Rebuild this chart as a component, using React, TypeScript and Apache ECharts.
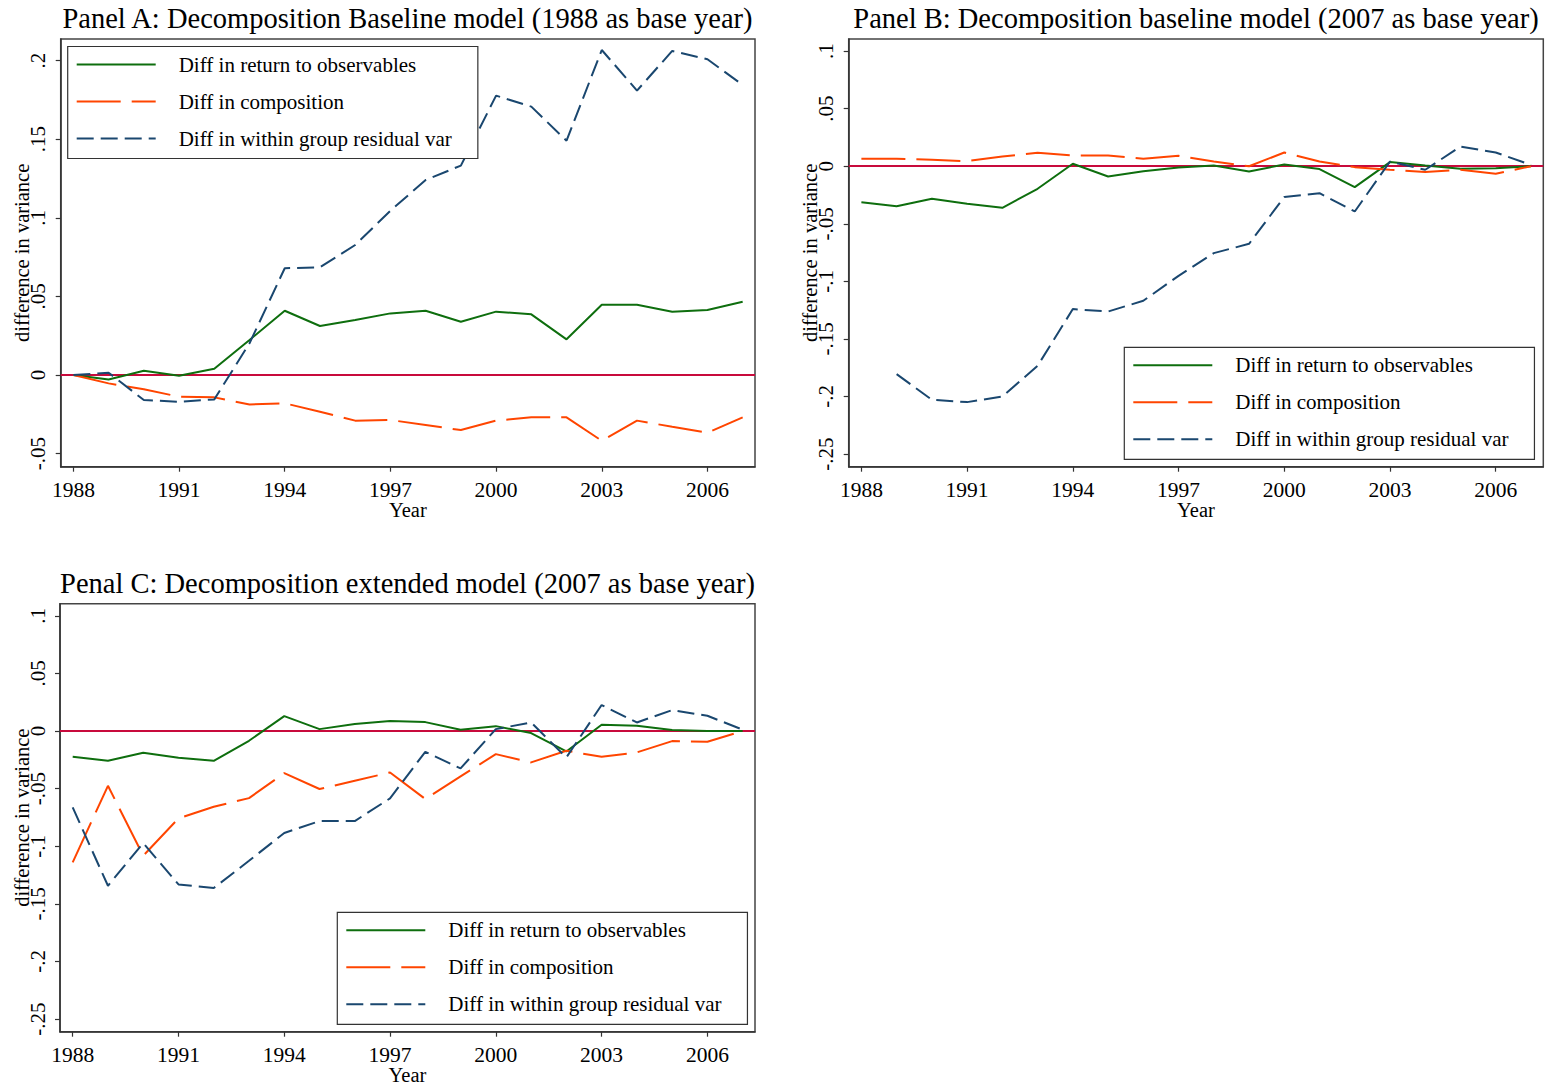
import React, { useEffect, useRef } from "react";
import * as echarts from "echarts";

// Survey years shared by all three panels
const years = [
  1988, 1989, 1990, 1991, 1992, 1993, 1994, 1995, 1996, 1997,
  1998, 1999, 2000, 2001, 2002, 2003, 2004, 2005, 2006, 2007,
];

// Panel A: baseline model, 1988 as base year
const aReturn = [
  0, -0.0028, 0.0027, -0.0004, 0.004, 0.0223, 0.0409, 0.0312, 0.035, 0.0392,
  0.0409, 0.0339, 0.0403, 0.0386, 0.0227, 0.0447, 0.0447, 0.0403, 0.0414, 0.0466,
];
const aComposition = [
  0, -0.0053, -0.0091, -0.0138, -0.0142, -0.0187, -0.018, -0.0233, -0.029, -0.0286,
  -0.0318, -0.035, -0.029, -0.0269, -0.0269, -0.0418, -0.029, -0.0329, -0.0367, -0.0269,
];
const aResidual = [
  0, 0.0015, -0.0159, -0.017, -0.0155, 0.0202, 0.0679, 0.0685, 0.0827, 0.1045,
  0.124, 0.1332, 0.1777, 0.1707, 0.149, 0.2067, 0.1809, 0.2061, 0.2008, 0.1845,
];

// Panel B: baseline model, 2007 as base year
const bReturn = [
  -0.0312, -0.0347, -0.0283, -0.0327, -0.0361, -0.0196, 0.0021, -0.0089, -0.0043, -0.0011,
  0.0006, -0.0046, 0.0015, -0.0025, -0.0182, 0.0036, 0.0006, -0.0023, -0.0017, 0,
];
const bComposition = [
  0.0064, 0.0064, 0.0056, 0.0044, 0.0084, 0.0116, 0.0093, 0.0093, 0.0064, 0.009,
  0.0041, 0, 0.0119, 0.0041, -0.0008, -0.0031, -0.0051, -0.0031, -0.0066, 0,
];
const bResidual: (number | null)[] = [
  null, -0.1806, -0.2029, -0.2049, -0.2, -0.1734, -0.1241, -0.1262, -0.1169, -0.0952,
  -0.0755, -0.0674, -0.0268, -0.0234, -0.0393, 0.0041, -0.0031, 0.0171, 0.0119, 0.0012,
];

// Panel C: extended model, 2007 as base year
const cReturn = [
  -0.0223, -0.0258, -0.0188, -0.0232, -0.0258, -0.0084, 0.013, 0.0017, 0.0061, 0.0087,
  0.0078, 0.0012, 0.0043, -0.0017, -0.0177, 0.0055, 0.0046, 0.0009, 0, 0,
];
const cComposition = [
  -0.114, -0.0475, -0.1082, -0.0758, -0.0657, -0.0582, -0.0365, -0.0503, -0.0431, -0.0359,
  -0.059, -0.0394, -0.02, -0.0272, -0.0171, -0.0223, -0.0185, -0.0087, -0.0093, 0,
];
const cResidual = [
  -0.0663, -0.1343, -0.0972, -0.1331, -0.1363, -0.1126, -0.0885, -0.0781, -0.0781, -0.0584,
  -0.018, -0.0324, 0.0017, 0.0075, -0.0229, 0.0226, 0.0075, 0.0182, 0.0133, 0.0012,
];

const yearTicks = [1988, 1991, 1994, 1997, 2000, 2003, 2006];
const aYTicks = [-0.05, 0, 0.05, 0.1, 0.15, 0.2];
const bcYTicks = [-0.25, -0.2, -0.15, -0.1, -0.05, 0, 0.05, 0.1];

const seriesNames = [
  "Diff in return to observables",
  "Diff in composition",
  "Diff in within group residual var",
];

const titles = [
  "Panel A: Decomposition Baseline model (1988 as base year)",
  "Panel B: Decomposition baseline model (2007 as base year)",
  "Penal C: Decomposition extended model (2007 as base year)",
];

const FONT = "Liberation Serif";
const GREEN = "#0e6e0e";
const ORANGE = "#ff4500";
const NAVY = "#1a476f";
const ZERO_RED = "#c80a3c";

const fmtY = (v: number) => {
  const s = String(Number(v.toFixed(3)));
  return s.replace("0.", ".");
};

const pair = (vals: (number | null)[]) =>
  years.map((y, i) => [y, vals[i] === null ? "-" : vals[i]]);

export default function App() {
  const ref = useRef<HTMLDivElement>(null);

  useEffect(() => {
    if (!ref.current) return;
    const chart = echarts.init(ref.current, undefined, { renderer: "svg" });

    const grids = [
      { left: 60.7, top: 39, width: 694.3, height: 427.7 },
      { left: 848.7, top: 39, width: 694.6, height: 427.7 },
      { left: 60, top: 603.7, width: 695, height: 428 },
    ];
    const yRanges = [
      [-0.0583, 0.2137],
      [-0.261, 0.1105],
      [-0.261, 0.1106],
    ];
    const yTickSets = [aYTicks, bcYTicks, bcYTicks];
    const panelData = [
      [aReturn, aComposition, aResidual],
      [bReturn, bComposition, bResidual],
      [cReturn, cComposition, cResidual],
    ];
    const titlePos = [
      { left: 407.5, top: 4 },
      { left: 1196, top: 4 },
      { left: 407.5, top: 569 },
    ];
    const legendPos = [
      { left: 67.7, top: 46.5 },
      { left: 1124.3, top: 347.3 },
      { left: 337.3, top: 912.3 },
    ];

    const styles = [
      { color: GREEN, type: "solid" as any },
      { color: ORANGE, type: [44, 11] as any },
      { color: NAVY, type: [17, 7] as any },
    ];

    const series: any[] = [];
    panelData.forEach((panel, p) => {
      panel.forEach((vals, k) => {
        const s: any = {
          type: "line",
          name: seriesNames[k],
          xAxisIndex: p,
          yAxisIndex: p,
          data: pair(vals),
          symbol: "none",
          showSymbol: false,
          connectNulls: false,
          lineStyle: { color: styles[k].color, width: 2, type: styles[k].type },
          itemStyle: { color: styles[k].color },
          z: 3,
        };
        if (k === 0) {
          s.markLine = {
            silent: true,
            symbol: ["none", "none"],
            label: { show: false },
            lineStyle: { color: ZERO_RED, width: 2, type: "solid" },
            data: [{ yAxis: 0 }],
            z: 2,
          };
        }
        series.push(s);
      });
    });

    const option: any = {
      animation: false,
      backgroundColor: "#fff",
      textStyle: { fontFamily: FONT },
      title: titles.map((t, i) => ({
        text: t,
        left: titlePos[i].left,
        top: titlePos[i].top,
        textAlign: "center",
        padding: 0,
        textStyle: { fontFamily: FONT, fontSize: 28.5, fontWeight: "normal", color: "#000" },
      })),
      legend: legendPos.map((pos) => ({
        data: seriesNames,
        orient: "vertical",
        left: pos.left,
        top: pos.top,
        itemWidth: 79,
        itemHeight: 14,
        itemGap: 15,
        padding: [7, 26, 9, 8],
        backgroundColor: "#fff",
        borderColor: "#333",
        borderWidth: 1.2,
        selectedMode: false,
        itemStyle: { color: "rgba(0,0,0,0)", borderWidth: 0, opacity: 0 },
        textStyle: {
          fontFamily: FONT,
          fontSize: 21,
          color: "#000",
          lineHeight: 22,
          padding: [0, 0, 0, 18],
        },
        z: 10,
      })),
      grid: grids.map((g) => ({
        ...g,
        show: true,
        borderColor: "#444",
        borderWidth: 1.5,
        backgroundColor: "#fff",
        containLabel: false,
      })),
      xAxis: grids.map((_, i) => ({
        type: "value",
        gridIndex: i,
        min: 1987.64,
        max: 2007.35,
        name: "Year",
        nameLocation: "middle",
        nameGap: 33,
        nameMoveOverlap: false,
        nameTextStyle: { fontFamily: FONT, fontSize: 20.5, color: "#000", verticalAlign: "top" },
        axisLine: { show: true, onZero: false, lineStyle: { color: "#333", width: 1.5 } },
        axisTick: {
          show: true,
          inside: false,
          length: 5,
          lineStyle: { color: "#333", width: 1.2 },
          customValues: yearTicks,
        },
        axisLabel: {
          fontFamily: FONT,
          fontSize: 21.5,
          color: "#000",
          margin: 12,
          customValues: yearTicks,
          formatter: (v: number) => String(Math.round(v)),
        },
        splitLine: { show: false },
      })),
      yAxis: grids.map((_, i) => ({
        type: "value",
        gridIndex: i,
        min: yRanges[i][0],
        max: yRanges[i][1],
        name: "difference in variance",
        nameLocation: "middle",
        nameRotate: 90,
        nameGap: 28,
        nameMoveOverlap: false,
        nameTextStyle: { fontFamily: FONT, fontSize: 20.5, color: "#000" },
        axisLine: { show: true, onZero: false, lineStyle: { color: "#333", width: 1.5 } },
        axisTick: {
          show: true,
          inside: false,
          length: 5,
          lineStyle: { color: "#333", width: 1.2 },
          customValues: yTickSets[i],
        },
        axisLabel: {
          fontFamily: FONT,
          fontSize: 21,
          color: "#000",
          rotate: 90,
          margin: 12,
          customValues: yTickSets[i],
          formatter: (v: number) => fmtY(v),
        },
        splitLine: { show: false },
      })),
      series,
    };

    chart.setOption(option);
    return () => chart.dispose();
  }, []);

  return (
    <div
      ref={ref}
      style={{ position: "fixed", left: 0, top: 0, width: 1547, height: 1088, background: "#fff" }}
    />
  );
}
